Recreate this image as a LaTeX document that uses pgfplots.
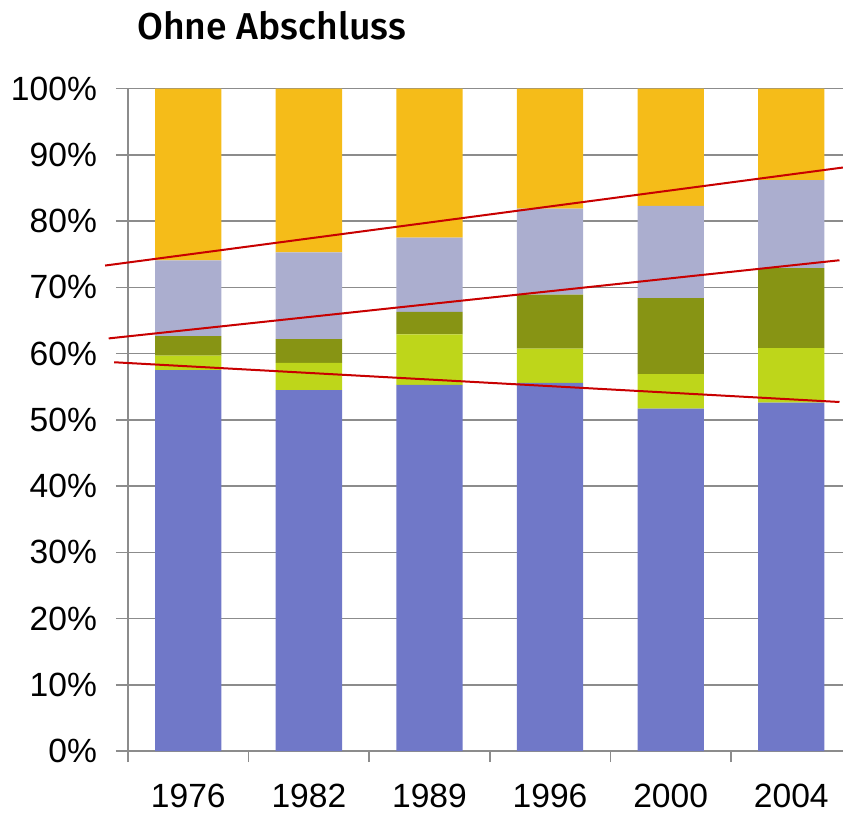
\documentclass[border=0pt]{standalone}
\usepackage{pgfplots}
\pgfplotsset{compat=1.18}
\usepackage{pgfplotstable}
\usepackage{fontspec}
\setmainfont{Liberation Sans}
\newfontfamily\titlefont{Fira Sans}[UprightFont={* Medium}]
\definecolor{cblue}{RGB}{112,120,200}
\definecolor{clg}{RGB}{190,214,26}
\definecolor{cdg}{RGB}{135,148,20}
\definecolor{clav}{RGB}{171,174,207}
\definecolor{corg}{RGB}{245,188,25}
\definecolor{cred}{RGB}{200,0,0}
\definecolor{cgrid}{RGB}{140,140,140}
\pgfplotstableread{
x blue lg dg lav org
0 57.5 2.2 2.95 11.45 25.9
1 54.5 4.1 3.6 13.1 24.7
2 55.3 7.6 3.4 11.2 22.5
3 55.6 5.15 8.15 13.0 18.1
4 51.7 5.2 11.5 13.9 17.7
5 52.6 8.25 12.05 13.3 13.8
}\data
\begin{document}
\begin{tikzpicture}
\useasboundingbox (-64pt,-30.95pt) rectangle (357.5pt,375.55pt);
\begin{axis}[
  at={(0,0)}, anchor=south west,
  scale only axis, width=357.5pt, height=331.2pt,
  xmin=-0.5, xmax=5.429, ymin=0, ymax=100,
  ybar stacked, bar width=0.55,
  axis lines=left, axis line style={draw=cgrid, line width=0.8pt, -},
  ymajorgrids, grid style={draw=cgrid, line width=0.8pt},
  ytick={0,10,...,100},
  yticklabel={\pgfmathprintnumber{\tick}\%},
  xtick={0,...,5},
  xticklabels={1976,1982,1989,1996,2000,2004},
  minor xtick={-0.5,0.5,1.5,2.5,3.5,4.5},
  tick align=outside,
  major tick length=6pt, minor tick length=5.5pt,
  x tick style={draw=none},
  minor x tick style={draw=cgrid, line width=0.8pt},
  y tick style={draw=cgrid, line width=0.8pt},
  tick label style={font=\fontsize{16.8}{20}\selectfont},
  /pgf/number format/assume math mode=true,
  yticklabel style={anchor=east, xshift=-6pt},
  xticklabel style={anchor=north, yshift=-7pt},
  clip=false,
]
\addplot[fill=cblue, draw=none] table[x=x, y=blue]{\data};
\addplot[fill=clg, draw=none] table[x=x, y=lg]{\data};
\addplot[fill=cdg, draw=none] table[x=x, y=dg]{\data};
\addplot[fill=clav, draw=none] table[x=x, y=lav]{\data};
\addplot[fill=corg, draw=none] table[x=x, y=org]{\data};
\node[anchor=base west, font=\titlefont\fontsize{18.7}{22}\selectfont, inner sep=0pt] at (rel axis cs:0,1) [xshift=4.5pt, yshift=24.35pt] {Ohne Abschluss};
\end{axis}
\begin{axis}[
  at={(0,0)}, anchor=south west,
  scale only axis, width=357.5pt, height=331.2pt,
  xmin=-0.5, xmax=5.429, ymin=0, ymax=100,
  hide axis, clip=false,
]
\addplot[cred, line width=1pt] coordinates {(-0.69,73.3) (5.429,88.1)};
\addplot[cred, line width=1pt] coordinates {(-0.66,62.3) (5.40,74.1)};
\addplot[cred, line width=1pt] coordinates {(-0.615,58.7) (5.40,52.7)};
\end{axis}
\end{tikzpicture}
\end{document}
